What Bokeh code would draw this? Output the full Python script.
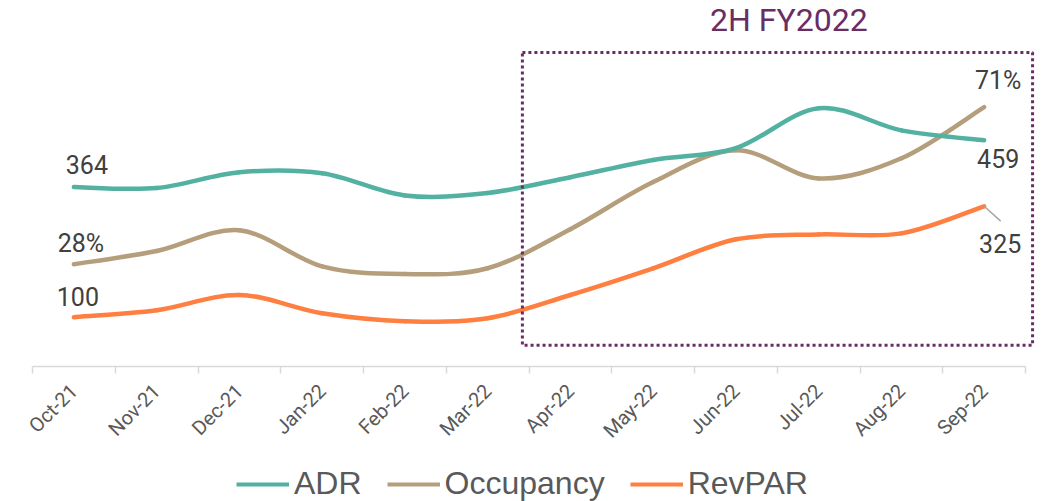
import math
from bokeh.plotting import figure
from bokeh.layouts import column
from bokeh.models import (Range1d, LinearAxis, FixedTicker, ColumnDataSource, Legend,
                          LegendItem, BoxAnnotation, Label)
from bokeh.embed import file_html
from bokeh.resources import INLINE

# ---------------- data ----------------
months = ["Oct-21", "Nov-21", "Dec-21", "Jan-22", "Feb-22", "Mar-22",
          "Apr-22", "May-22", "Jun-22", "Jul-22", "Aug-22", "Sep-22"]
adr = [364, 362, 394, 392, 347, 352, 384, 419, 443, 524, 479, 459]
occupancy = [28.0, 31.6, 37.3, 27.4, 25.3, 26.9, 37.6, 50.5, 59.2, 51.5, 57.0, 71.0]
revpar = [100, 114, 145, 108, 92, 98, 145, 199, 258, 268, 270, 325]
series_names = ["ADR", "Occupancy", "RevPAR"]
highlight_title = "2H FY2022"

# ---------------- style ----------------
C_ADR = "#52B1A1"
C_OCC = "#B59E7B"
C_REV = "#FF7F40"
C_PURPLE = "#6A2D63"
C_TEXT = "#404040"
C_AXIS = "#D9D9D9"
C_TICKLBL = "#595959"

xs = [i + 0.5 for i in range(len(months))]

p = figure(width=1041, height=454, output_backend="svg", toolbar_location=None,
           x_range=Range1d(0, 12.193), y_range=Range1d(0, 742.4),
           min_border_left=32, min_border_right=0, min_border_top=0, min_border_bottom=88,
           x_axis_type=None, y_axis_type=None)
p.extra_y_ranges = {"occ": Range1d(0, 100.2)}
p.outline_line_color = None
p.xgrid.visible = False
p.ygrid.visible = False


def smooth_segments(x, y):
    n = len(x)
    x0, y0, x1, y1, cx0, cy0, cx1, cy1 = [], [], [], [], [], [], [], []
    for i in range(n - 1):
        pm = max(i - 1, 0)
        pp = min(i + 2, n - 1)
        x0.append(x[i]); y0.append(y[i]); x1.append(x[i + 1]); y1.append(y[i + 1])
        cx0.append(x[i] + (x[i + 1] - x[pm]) / 6.0)
        cy0.append(y[i] + (y[i + 1] - y[pm]) / 6.0)
        cx1.append(x[i + 1] - (x[pp] - x[i]) / 6.0)
        cy1.append(y[i + 1] - (y[pp] - y[i]) / 6.0)
    return dict(x0=x0, y0=y0, x1=x1, y1=y1, cx0=cx0, cy0=cy0, cx1=cx1, cy1=cy1)


LW = 4.5
p.bezier(source=ColumnDataSource(smooth_segments(xs, revpar)), x0="x0", y0="y0", x1="x1", y1="y1",
         cx0="cx0", cy0="cy0", cx1="cx1", cy1="cy1", line_color=C_REV, line_width=LW, line_cap="round")
p.bezier(source=ColumnDataSource(smooth_segments(xs, occupancy)), x0="x0", y0="y0", x1="x1", y1="y1",
         cx0="cx0", cy0="cy0", cx1="cx1", cy1="cy1", line_color=C_OCC, line_width=LW, line_cap="round",
         y_range_name="occ")
p.bezier(source=ColumnDataSource(smooth_segments(xs, adr)), x0="x0", y0="y0", x1="x1", y1="y1",
         cx0="cx0", cy0="cy0", cx1="cx1", cy1="cy1", line_color=C_ADR, line_width=LW, line_cap="round")

# highlight box
box = BoxAnnotation(left=5.92, right=12.085, bottom=43, top=637, fill_color=None, fill_alpha=0,
                    line_color=C_PURPLE, line_alpha=1.0, line_width=3, line_dash="3 3", level="overlay")
p.add_layout(box)
p.add_layout(Label(x=9.14, y=702, text=highlight_title, text_align="center", text_baseline="middle",
                   text_font="Roboto", text_font_size="32px", text_color=C_PURPLE))

# data labels
LF = "Roboto"
LS = "25px"
def add_label(x, y, text, dx, dy, rng="default"):
    p.add_layout(Label(x=x, y=y, text=text, x_offset=dx, y_offset=dy, text_align="center",
                       text_baseline="middle", text_font=LF, text_font_size=LS, text_color=C_TEXT,
                       y_range_name=rng))

add_label(xs[0], adr[0], f"{adr[0]}", 13, 23)
add_label(xs[0], occupancy[0], f"{occupancy[0]:.0f}%", 7, 21, "occ")
add_label(xs[0], revpar[0], f"{revpar[0]}", 4, 21)
add_label(xs[-1], occupancy[-1], f"{occupancy[-1]:.0f}%", 14, 27, "occ")
add_label(xs[-1], adr[-1], f"{adr[-1]}", 14, -18)
add_label(xs[-1], revpar[-1], f"{revpar[-1]}", 16, -37)
# leader line for RevPAR label
p.segment(x0=[xs[-1]], y0=[revpar[-1]], x1=[xs[-1] + 0.2], y1=[revpar[-1] - 30],
          line_color="#A6A6A6", line_width=1.5)

# x axis
xaxis = LinearAxis(ticker=FixedTicker(ticks=xs, minor_ticks=list(range(len(months) + 1))))
xaxis.bounds = (0, len(months))
xaxis.major_label_overrides = {x: m for x, m in zip(xs, months)}
xaxis.major_tick_line_color = None
xaxis.major_tick_out = 7
xaxis.major_tick_in = 0
xaxis.minor_tick_line_color = C_AXIS
xaxis.minor_tick_line_width = 1.5
xaxis.minor_tick_out = 7
xaxis.minor_tick_in = 0
xaxis.axis_line_color = C_AXIS
xaxis.axis_line_width = 1.5
xaxis.major_label_orientation = math.pi / 4
xaxis.major_label_standoff = 14
xaxis.major_label_text_font = "Roboto"
xaxis.major_label_text_font_size = "20px"
xaxis.major_label_text_color = C_TICKLBL
p.add_layout(xaxis, "below")

# ---------------- legend strip ----------------
lg = figure(width=1041, height=47, output_backend="svg", toolbar_location=None,
            x_range=Range1d(0, 1), y_range=Range1d(0, 1),
            min_border_left=0, min_border_right=0, min_border_top=0, min_border_bottom=0,
            x_axis_type=None, y_axis_type=None)
lg.outline_line_color = None
lg.xgrid.visible = False
lg.ygrid.visible = False
nan = float("nan")
proxy = dict(x=[nan], y=[nan])
r_adr = lg.line(x="x", y="y", source=ColumnDataSource(proxy), line_color=C_ADR, line_width=4)
r_occ = lg.line(x="x", y="y", source=ColumnDataSource(proxy), line_color=C_OCC, line_width=4)
r_rev = lg.line(x="x", y="y", source=ColumnDataSource(proxy), line_color=C_REV, line_width=4)
legend = Legend(items=[LegendItem(label=series_names[0], renderers=[r_adr]),
                       LegendItem(label=series_names[1], renderers=[r_occ]),
                       LegendItem(label=series_names[2], renderers=[r_rev])],
                orientation="horizontal", location=(204, -1),
                label_text_font="Liberation Sans", label_text_font_size="32px",
                label_text_color=C_TICKLBL, glyph_width=53, glyph_height=20,
                label_standoff=5, spacing=25, padding=0, margin=0,
                border_line_color=None, background_fill_alpha=0)
lg.add_layout(legend, "center")

layout = column(p, lg, spacing=0)
open("out.html", "w").write(file_html(layout, INLINE))
